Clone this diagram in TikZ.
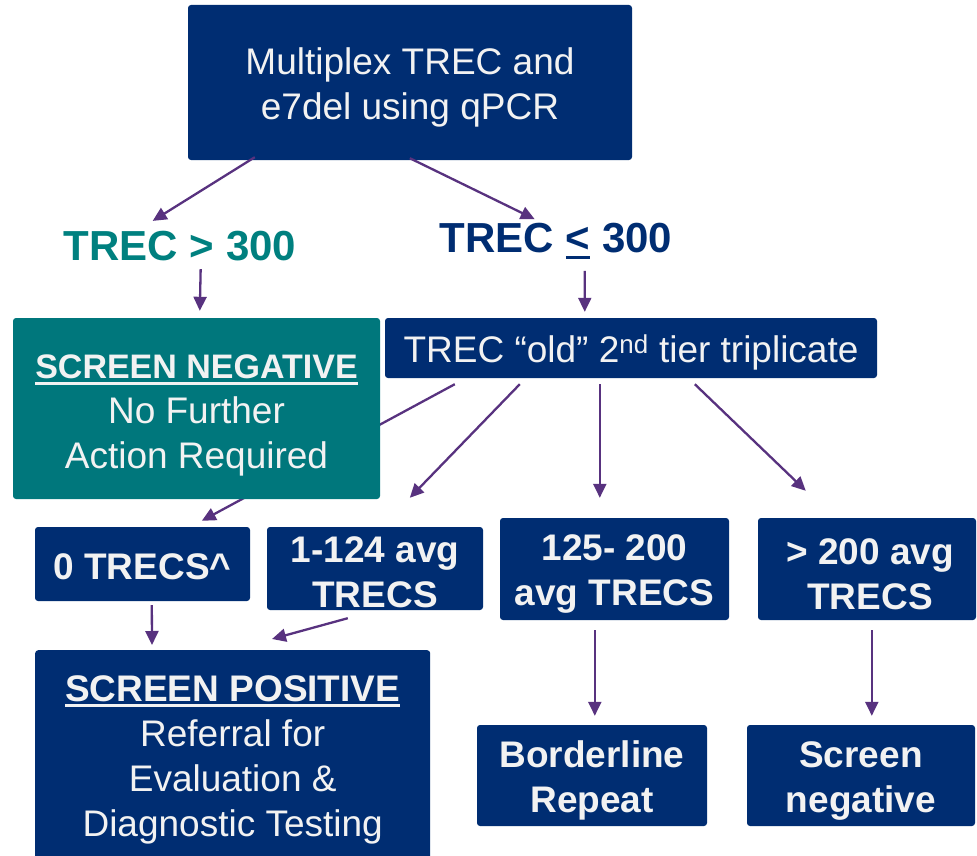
\documentclass[tikz,border=0pt]{standalone}
\usepackage{fontspec}
\setmainfont{Liberation Sans}
\usetikzlibrary{arrows.meta,calc}
\definecolor{navy}{HTML}{002D72}
\definecolor{tealbox}{HTML}{00777C}
\definecolor{tealtext}{HTML}{00807F}
\definecolor{arrowc}{HTML}{58327F}
\definecolor{boxtext}{HTML}{F2F2F2}
\pgfdeclarelayer{background}
\pgfsetlayers{background,main}
% thick underline set a little below the baseline
\newcommand\thickul[2][2.6pt]{\setbox0\hbox{#2}\leavevmode\rlap{\rule[-6pt]{\wd0}{#1}}\box0\relax}
\tikzset{
  box/.style={fill=navy, rounded corners=3pt, inner sep=0pt},
  txt/.style={text=boxtext, align=center, inner sep=0pt},
  regtext/.style={font=\fontsize{37}{45}\selectfont},
  boldtext/.style={font=\fontsize{37}{45}\selectfont\bfseries},
  arr/.style={draw=arrowc, line width=2.3pt, -{Triangle[length=14pt,width=13pt]}},
  label/.style={font=\fontsize{42}{48}\selectfont\bfseries, inner sep=0pt}
}
\begin{document}
\begin{tikzpicture}[x=1pt,y=-1pt]
\useasboundingbox (0,0) rectangle (977,856);

% top box
\node[box, minimum width=444pt, minimum height=155pt] (top) at (410,82.5) {};
\node[txt, regtext] (toptext) at ($(top.center)+(0,5)$) {Multiplex TREC and\\e7del using qPCR};

% threshold labels
\node[label, text=tealtext] (gt) at (180,246) {TREC > 300};
\node[label, text=navy] (le) at (556,241) {TREC \thickul[3pt]{<} 300};

% second row
\node[box, fill=tealbox, minimum width=367pt, minimum height=181pt] (neg) at (196.5,408.5) {};
\node[txt, regtext] (negtext) at ($(neg.center)+(0,7)$)
  {{\fontsize{34}{45}\selectfont\bfseries\thickul{SCREEN NEGATIVE}}\\
   No Further\\
   Action Required};
\node[box, minimum width=492pt, minimum height=60pt] (trip) at (631,348) {};
\node[txt, regtext] (triptext) at ($(trip.center)+(0,4)$) {TREC “old” 2\textsuperscript{nd} tier triplicate};

% result boxes
\node[box, minimum width=215pt, minimum height=74pt] (zero) at (142.5,564) {};
\node[txt, boldtext] (zerotext) at ($(zero.center)+(0,3)$) {0 TRECS\^{}};
\node[box, minimum width=216pt, minimum height=83pt] (low) at (375,568.5) {};
\node[txt, boldtext] (lowtext) at ($(low.center)+(0,4)$) {1-124 avg\\TRECS};
\node[box, minimum width=229pt, minimum height=102pt] (mid) at (614.5,569) {};
\node[txt, boldtext] (midtext) at ($(mid.center)+(0,5)$) {125- 200\\avg TRECS};
\node[box, minimum width=218pt, minimum height=102pt] (high) at (867,569) {};
\node[txt, boldtext] (hightext) at ($(high.center)+(3,5)$) {> 200 avg\\TRECS};

% outcome boxes
\node[box, minimum width=395pt, minimum height=212pt, anchor=north west] (pos) at (35,650) {};
\node[txt, regtext, anchor=north] (postext) at ($(pos.north)+(0,25)$)
  {{\bfseries\thickul{SCREEN POSITIVE}}\\
   Referral for\\
   Evaluation \&\\
   Diagnostic Testing};
\node[box, minimum width=230pt, minimum height=101pt] (border) at (592,775.5) {};
\node[txt, boldtext] (bordertext) at ($(border.center)+(0,5)$) {Borderline\\Repeat};
\node[box, minimum width=228pt, minimum height=101pt] (sneg) at (861,775.5) {};
\node[txt, boldtext] (snegtext) at ($(sneg.center)+(0,5)$) {Screen\\negative};

% connectors
\draw[arr] ($(top.south west)+(67,-3)$) -- ($(gt.north west)+(89,-10)$);
\draw[arr] ($(top.south west)+(222,-2)$) -- ($(le.north west)+(95,-4)$);
\draw[arr] ($(gt.south west)+(137,8)$) -- ($(neg.north west)+(187,-7)$);
\draw[arr] ($(le.south west)+(145,12)$) -- ($(trip.north west)+(200,-6)$);
\begin{pgfonlayer}{background}
\draw[arr] ($(trip.south west)+(70,6)$) -- ($(zero.north west)+(167,-6)$);
\end{pgfonlayer}
\draw[arr] ($(trip.south west)+(135,6)$) -- ($(low.north west)+(143,-29)$);
\draw[arr] ($(trip.south west)+(215,6)$) -- ($(mid.north west)+(100,-20)$);
\draw[arr] ($(trip.south west)+(310,6)$) -- ($(high.north west)+(48,-27)$);
\draw[arr] ($(zero.south west)+(117,4)$) -- ($(pos.north west)+(117,-5)$);
\draw[arr] ($(low.south west)+(81,8)$) -- ($(pos.north west)+(237,-11)$);
\draw[arr] ($(mid.south west)+(95,10)$) -- ($(border.north west)+(118,-9)$);
\draw[arr] ($(high.south west)+(114,10)$) -- ($(sneg.north west)+(125,-9)$);
\end{tikzpicture}
\end{document}
